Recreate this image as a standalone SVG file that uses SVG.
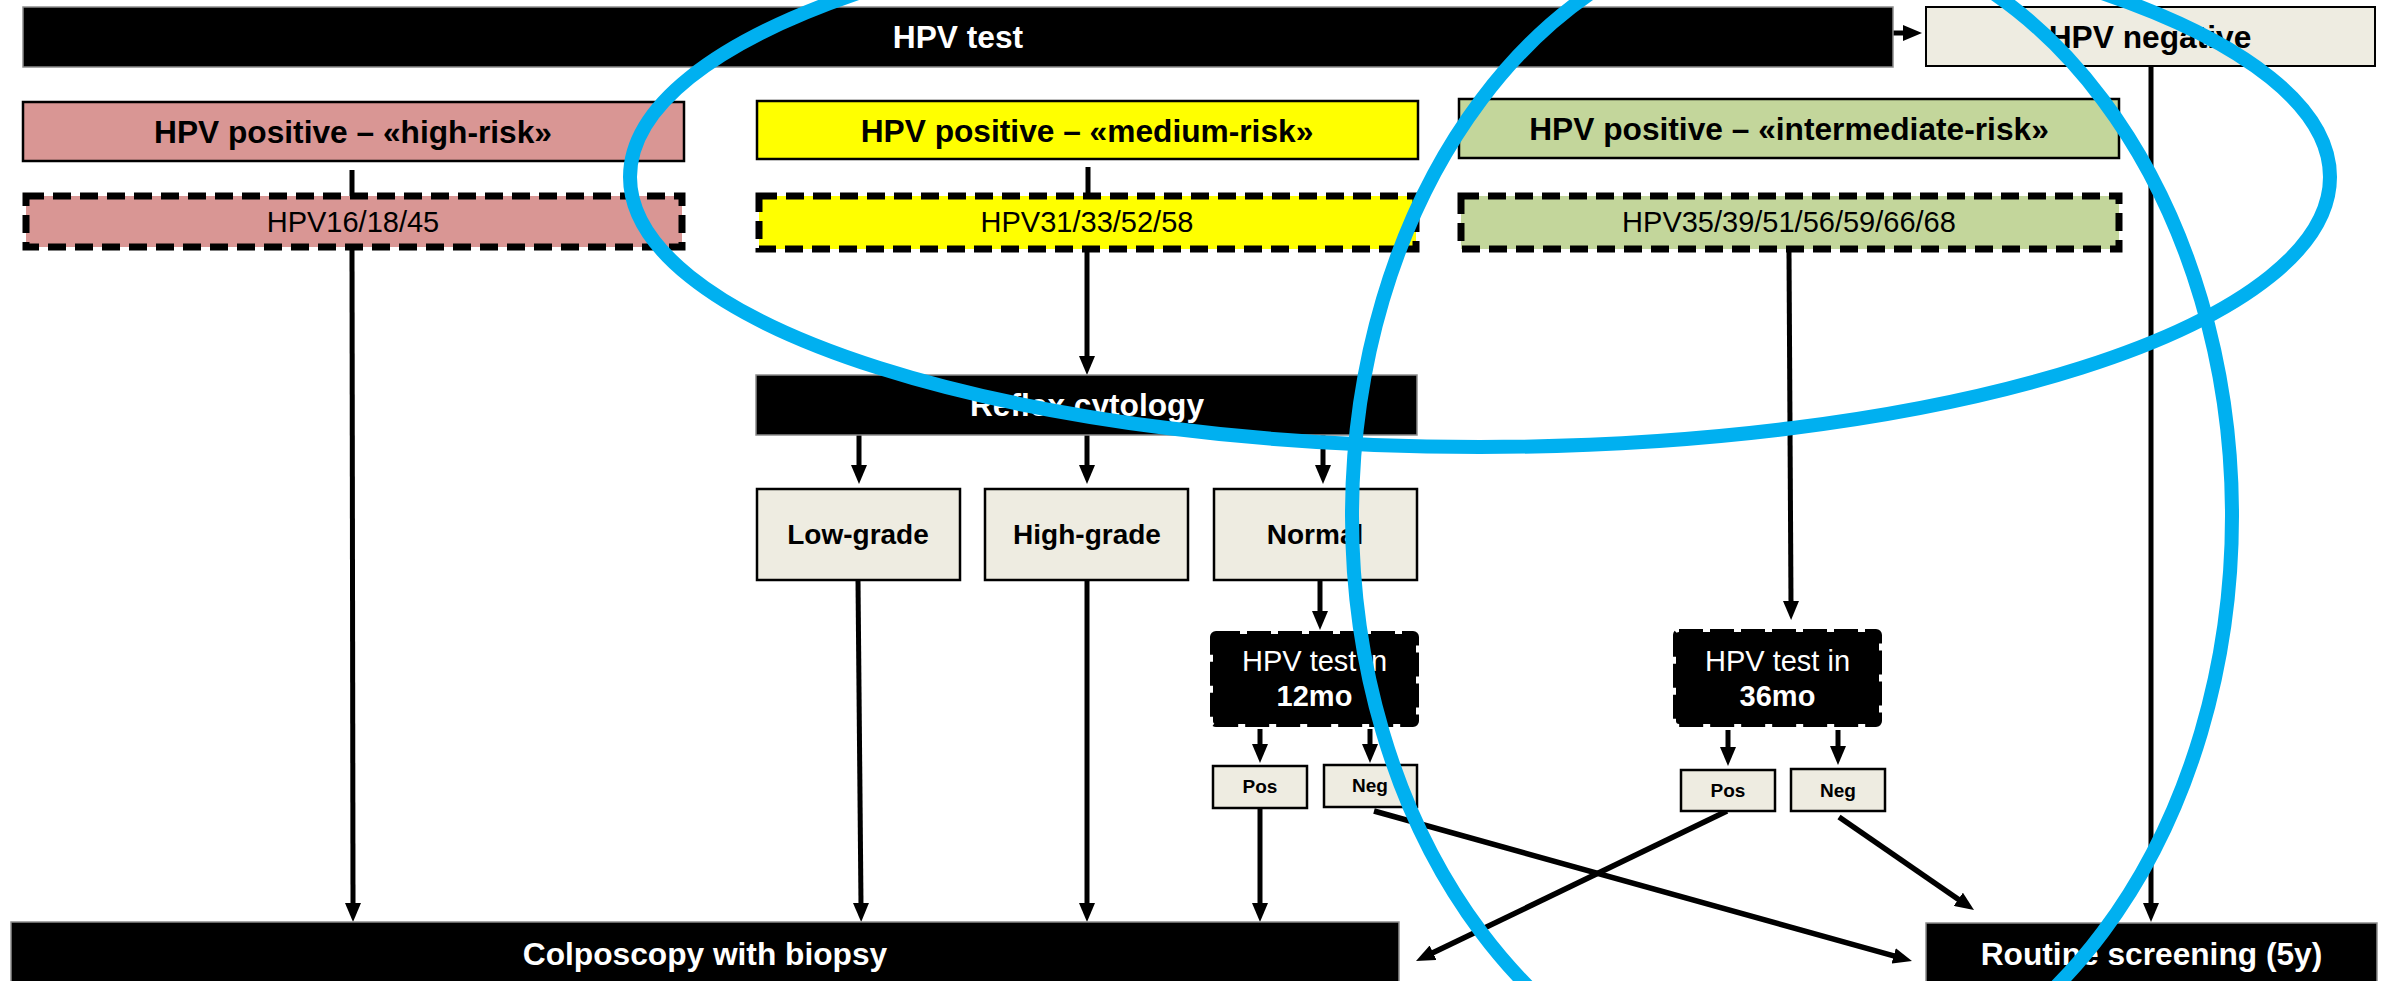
<svg xmlns="http://www.w3.org/2000/svg" width="2384" height="981" viewBox="0 0 2384 981">
<defs>
<style>
text{font-family:"Liberation Sans",Arial,Helvetica,sans-serif;text-anchor:middle}
.t{font-weight:bold;font-size:31.7px}
.w{fill:#ffffff}
.k{fill:#000000}
.r{font-size:29px}
.m{font-weight:bold;font-size:28px}
.s{font-weight:bold;font-size:19px}
.bar{fill:#000000;stroke:#8c8c8c;stroke-width:1.5}
.title{stroke:#000000;stroke-width:2.5}
.dash{stroke:#000000;stroke-width:7;stroke-dasharray:18 9}
.tbox{fill:#000000;stroke:#000000;stroke-width:6;stroke-dasharray:24 7}
.beige{fill:#EEECE1;stroke:#000000;stroke-width:2.5}
.c{stroke:#000000;stroke-width:5;fill:none}
.a{marker-end:url(#ah)}
.d{stroke-width:5.5}
.ell{fill:none;stroke:#00B0F0;stroke-width:14}
</style>
<marker id="ah" viewBox="0 0 19 16" markerWidth="19" markerHeight="16" refX="2" refY="8" orient="auto" markerUnits="userSpaceOnUse">
<path d="M0,0 L19,8 L0,16 Z" fill="#000000"/>
</marker>
</defs>
<rect width="2384" height="981" fill="#ffffff"/>

<g id="connectors">
<line class="c a" x1="1893" y1="33" x2="1905" y2="33"/>
<line class="c" x1="352" y1="170" x2="352" y2="196"/>
<line class="c" x1="1088" y1="167" x2="1088" y2="196"/>
<line class="c a" x1="352" y1="250" x2="353" y2="905"/>
<line class="c a" x1="1087" y1="252" x2="1087" y2="358"/>
<line class="c a" x1="859" y1="435" x2="859" y2="467"/>
<line class="c a" x1="1087" y1="435" x2="1087" y2="467"/>
<line class="c a" x1="1323" y1="435" x2="1323" y2="467"/>
<line class="c a" x1="858" y1="580" x2="861" y2="905"/>
<line class="c a" x1="1087" y1="580" x2="1087" y2="905"/>
<line class="c a" x1="1320" y1="580" x2="1320" y2="613"/>
<line class="c a" x1="1260" y1="729" x2="1260" y2="746"/>
<line class="c a" x1="1370" y1="729" x2="1370" y2="746"/>
<line class="c a" x1="1260" y1="808" x2="1260" y2="905"/>
<line class="c a d" x1="1374" y1="811" x2="1895.6" y2="956.4"/>
<line class="c a" x1="1789" y1="252" x2="1791" y2="603"/>
<line class="c a" x1="1728" y1="730" x2="1728" y2="749"/>
<line class="c a" x1="1838" y1="730" x2="1838" y2="748"/>
<line class="c a d" x1="1727" y1="811" x2="1431.3" y2="953.6"/>
<line class="c a d" x1="1839" y1="817" x2="1960" y2="900.4"/>
<line class="c a" x1="2151" y1="66" x2="2151" y2="905"/>
</g>

<g id="hpv-test">
<rect class="bar" x="23" y="7" width="1870" height="60"/>
<text class="t w" x="958" y="48">HPV test</text>
</g>
<g id="hpv-negative">
<rect class="beige" x="1926" y="7" width="449" height="59" style="stroke-width:2"/>
<text class="t k" x="2150" y="48">HPV negative</text>
</g>

<g id="high-risk">
<rect class="title" x="23" y="102" width="661" height="59" fill="#D99694"/>
<text class="t k" x="353" y="143">HPV positive – «high-risk»</text>
</g>
<g id="medium-risk">
<rect class="title" x="757" y="101" width="661" height="58" fill="#FFFF00"/>
<text class="t k" x="1087" y="141.5">HPV positive – «medium-risk»</text>
</g>
<g id="intermediate-risk">
<rect class="title" x="1459" y="99" width="660" height="59" fill="#C3D69B"/>
<text class="t k" x="1789" y="140">HPV positive – «intermediate-risk»</text>
</g>

<g id="types-high">
<rect class="dash" x="26" y="196" width="656" height="51" fill="#D99694"/>
<text class="r k" x="353" y="232">HPV16/18/45</text>
</g>
<g id="types-medium">
<rect class="dash" x="759" y="196" width="657" height="53" fill="#FFFF00"/>
<text class="r k" x="1087" y="232">HPV31/33/52/58</text>
</g>
<g id="types-intermediate">
<rect class="dash" x="1461" y="196" width="658" height="53" fill="#C3D69B"/>
<text class="r k" x="1789" y="232">HPV35/39/51/56/59/66/68</text>
</g>

<g id="reflex-cytology">
<rect class="bar" x="756" y="375" width="661" height="60"/>
<text class="t w" x="1087" y="416">Reflex cytology</text>
</g>

<g id="low-grade">
<rect class="beige" x="757" y="489" width="203" height="91"/>
<text class="m k" x="858" y="544">Low-grade</text>
</g>
<g id="high-grade">
<rect class="beige" x="985" y="489" width="203" height="91"/>
<text class="m k" x="1087" y="544">High-grade</text>
</g>
<g id="normal">
<rect class="beige" x="1214" y="489" width="203" height="91"/>
<text class="m k" x="1315" y="544">Normal</text>
</g>

<g id="test-12mo">
<rect class="tbox" x="1213" y="634" width="203" height="90" rx="3"/>
<text class="r w" x="1314.5" y="671">HPV test in</text>
<text class="r w" x="1314.5" y="706" font-weight="bold">12mo</text>
</g>
<g id="test-36mo">
<rect class="tbox" x="1676" y="632" width="203" height="92" rx="3"/>
<text class="r w" x="1777.5" y="671">HPV test in</text>
<text class="r w" x="1777.5" y="706" font-weight="bold">36mo</text>
</g>

<g id="pos-12">
<rect class="beige" x="1213" y="766" width="94" height="42"/>
<text class="s k" x="1260" y="793">Pos</text>
</g>
<g id="neg-12">
<rect class="beige" x="1324" y="765" width="93" height="42"/>
<text class="s k" x="1370" y="792">Neg</text>
</g>
<g id="pos-36">
<rect class="beige" x="1681" y="770" width="94" height="41"/>
<text class="s k" x="1728" y="797">Pos</text>
</g>
<g id="neg-36">
<rect class="beige" x="1791" y="769" width="94" height="42"/>
<text class="s k" x="1838" y="797">Neg</text>
</g>

<g id="colposcopy">
<rect class="bar" x="11" y="922" width="1388" height="70"/>
<text class="t w" x="705" y="965">Colposcopy with biopsy</text>
</g>
<g id="routine-screening">
<rect class="bar" x="1926" y="923" width="451" height="70"/>
<text class="t w" x="2151.5" y="965">Routine screening (5y)</text>
</g>

<g id="annotations">
<ellipse class="ell" cx="1480" cy="177" rx="850" ry="270"/>
<ellipse class="ell" cx="1792" cy="516" rx="440" ry="588"/>
</g>
</svg>
